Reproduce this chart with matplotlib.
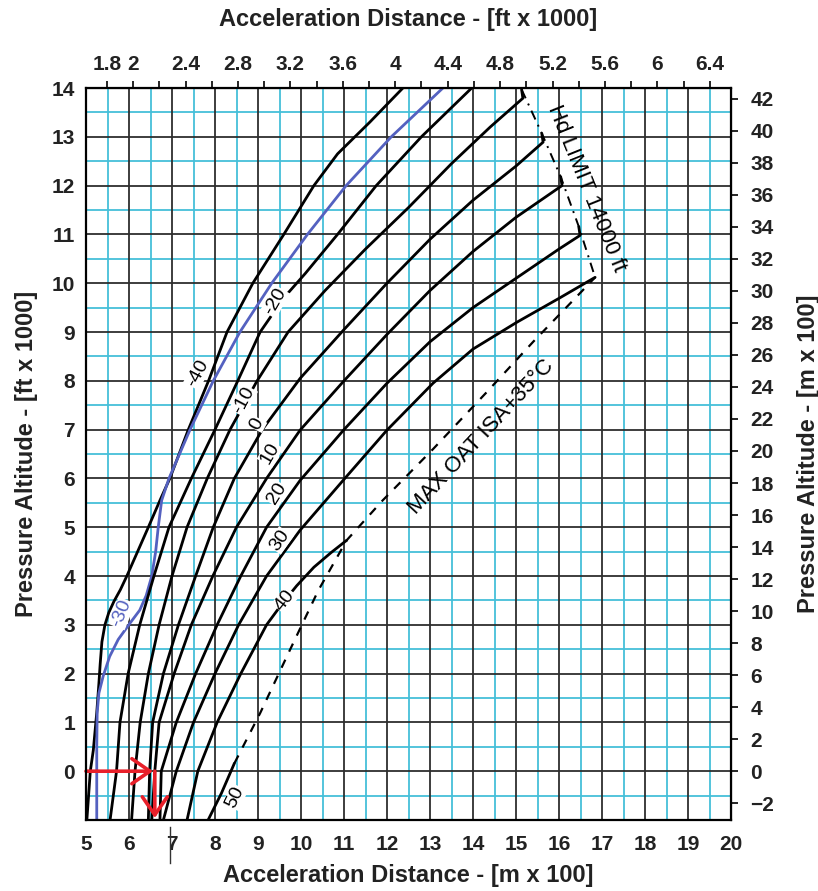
import numpy as np
from matplotlib import pyplot as plt

plt.rcParams['font.family'] = ['Liberation Sans', 'DejaVu Sans']

# acceleration distance [m x 100] vs pressure altitude [ft x 1000] for each OAT
temps = [-40, -30, -20, -10, 0, 10, 20, 30, 40, 50]

line_m40 = [(5.02, -1), (5.1, 0), (5.17, 0.43), (5.25, 1.2), (5.3, 1.8), (5.33, 2.2), (5.37, 2.65),
            (5.44, 3.0), (5.53, 3.25), (5.65, 3.48), (5.8, 3.72), (5.95, 4.0), (6.2, 4.5),
            (6.45, 5.0), (6.72, 5.55), (6.95, 6.0), (7.38, 7.0), (7.85, 8.0), (8.28, 9.0),
            (8.88, 10.0), (9.6, 11.0), (10.3, 12.0), (10.85, 12.65), (11.6, 13.3), (12.37, 14.0)]
line_m30 = [(5.25, -1), (5.25, 0.5), (5.26, 1.2), (5.3, 1.6), (5.4, 1.95), (5.55, 2.35), (5.75, 2.7),
            (6.02, 3.03), (6.25, 3.3), (6.4, 3.6), (6.53, 4.0), (6.62, 4.5), (6.68, 5.0),
            (6.76, 5.55), (6.93, 6.0), (7.42, 7.0), (7.96, 8.0), (8.58, 9.0), (9.32, 10.0),
            (10.15, 11.0), (11.05, 12.0), (12.1, 13.0), (13.3, 14.0)]
line_m20 = [(5.56, -1), (5.71, 0), (5.79, 1), (5.98, 2), (6.25, 3), (6.58, 4), (6.93, 5), (7.45, 6),
            (8.0, 7), (8.53, 8), (9.05, 9), (9.6, 9.7), (10.1, 10.2), (10.85, 11), (11.75, 12),
            (12.8, 13), (13.97, 14)]
line_m10 = [(6.06, -1), (6.14, 0), (6.26, 1), (6.45, 2), (6.7, 3), (7.0, 4), (7.35, 5), (7.82, 6),
            (8.35, 7), (8.98, 8), (9.7, 9), (10.56, 9.85), (11.5, 10.7), (12.5, 11.55),
            (13.5, 12.45), (14.4, 13.2), (15.16, 13.79), (15.13, 13.97)]
line_0 = [(6.45, -1), (6.48, 0), (6.55, 1), (6.8, 2), (7.15, 3), (7.55, 4), (7.96, 5), (8.45, 6),
          (9.1, 7), (9.98, 8.05), (11.0, 9.05), (12.0, 10.0), (13.0, 10.9), (14.0, 11.7),
          (15.0, 12.4), (15.63, 12.89), (15.6, 13.07)]
line_10 = [(6.53, -1), (6.6, 0), (6.7, 1), (7.05, 2), (7.45, 3), (7.95, 4), (8.5, 5), (9.2, 6),
           (9.98, 6.99), (11.0, 8.0), (12.0, 8.95), (13.0, 9.85), (14.0, 10.65), (15.0, 11.35),
           (16.07, 12.0), (16.04, 12.18)]
line_20 = [(6.72, -1), (6.75, 0), (7.1, 1), (7.55, 2), (8.05, 3), (8.6, 4), (9.2, 5), (9.98, 5.96),
           (11.0, 7.0), (12.0, 7.95), (13.0, 8.8), (14.0, 9.5), (15.0, 10.1), (16.0, 10.7),
           (16.49, 10.98), (16.46, 11.16)]
line_30 = [(6.8, -1), (7.1, 0), (7.5, 1), (8.0, 2), (8.55, 3), (9.2, 4), (9.98, 4.94), (10.98, 5.96),
           (11.99, 6.98), (13.07, 7.95), (14.0, 8.65), (15.02, 9.2), (16.02, 9.7), (16.84, 10.12)]
line_40 = [(7.35, -1), (7.6, 0), (8.05, 1), (8.6, 2), (9.2, 3), (9.55, 3.42), (9.9, 3.8),
           (10.3, 4.18), (10.7, 4.48), (11.06, 4.73)]
line_50 = [(7.84, -1), (8.15, -0.45), (8.45, 0.16)]
curves = [line_m40, line_m30, line_m20, line_m10, line_0, line_10, line_20, line_30, line_40, line_50]

# limits
max_oat = [(8.45, 0.16), (9.05, 1.19), (9.74, 2.48), (10.4, 3.7), (11.06, 4.73), (11.9, 5.55),
           (13.07, 6.6), (14.3, 7.75), (15.4, 8.8), (16.33, 9.65), (16.84, 10.12)]
hd_limit = [(15.13, 13.97), (15.6, 13.07), (16.04, 12.18), (16.46, 11.16), (16.84, 10.12)]

# curve labels: text, x, y, angle
curve_labels = [('-40', 7.6, 8.15, 62), ('-30', 5.83, 3.23, 68), ('-20', 9.4, 9.62, 60),
                ('-10', 8.66, 7.6, 62), ('0', 8.97, 7.12, 62), ('10', 9.28, 6.51, 60),
                ('20', 9.43, 5.69, 58), ('30', 9.51, 4.73, 55), ('40', 9.63, 3.5, 52),
                ('50', 8.47, -0.53, 64)]

m_ticks = list(range(5, 21))
ft_ticks = list(range(0, 15))
right_ticks = list(range(-2, 43, 2))
top_ticks = [round(1.8 + 0.2 * i, 1) for i in range(24)]
top_labels = ['1.8', '2', '2.4', '2.8', '3.2', '3.6', '4', '4.4', '4.8', '5.2', '5.6', '6', '6.4']


def m_to_ft(x):
    return x * 0.328084


def ft_to_m(x):
    return x / 0.328084


def kft_to_hm(y):
    return y * 3.048


def hm_to_kft(y):
    return y / 3.048


def fmt_top(t):
    s = ('%.1f' % t).rstrip('0').rstrip('.')
    return s if s in top_labels else ''


fig = plt.figure(figsize=(8.18, 8.91), dpi=100)
ax = fig.add_axes([86 / 818, 1 - 820 / 891, 645 / 818, 732 / 891])
ax.set_xlim(5, 20)
ax.set_ylim(-1, 14)

# grid: cyan half steps, black whole steps
for v in np.arange(5.5, 20, 1.0):
    ax.axvline(v, color='#45bfd9', lw=1.3, zorder=1)
for v in np.arange(-0.5, 14, 1.0):
    ax.axhline(v, color='#45bfd9', lw=1.3, zorder=1)
for v in range(6, 20):
    ax.axvline(v, color='#2e2e2e', lw=1.3, zorder=2)
for v in range(0, 14):
    ax.axhline(v, color='#2e2e2e', lw=1.3, zorder=2)

for t, pts in zip(temps, curves):
    xs = [p[0] for p in pts]
    ys = [p[1] for p in pts]
    col = '#5461c0' if t == -30 else 'black'
    ax.plot(xs, ys, color=col, lw=2.0, zorder=4, solid_capstyle='round', solid_joinstyle='round')

ax.plot([p[0] for p in max_oat], [p[1] for p in max_oat], color='black', lw=1.6,
        ls=(0, (4, 4)), zorder=4)
ax.plot([p[0] for p in hd_limit], [p[1] for p in hd_limit], color='black', lw=1.4,
        ls=(0, (5, 3, 1, 3)), zorder=4)

for txt, x, y, ang in curve_labels:
    col = '#5461c0' if txt == '-30' else 'black'
    ax.text(x, y, txt, rotation=ang, color=col, fontsize=14, ha='center', va='center',
            rotation_mode='anchor', zorder=5,
            bbox=dict(facecolor='white', edgecolor='none', pad=0.3))

ax.text(14.2, 6.85, 'MAX OAT ISA+35°C', rotation=47, fontsize=16, ha='center', va='center',
        rotation_mode='anchor', zorder=5)
ax.text(16.63, 11.95, 'Hd LIMIT 14000 ft', rotation=-68, fontsize=16, ha='center', va='center',
        rotation_mode='anchor', zorder=5)

# worked example
arrow = dict(arrowstyle='->,head_length=1.3,head_width=0.9', color='#e8202a', lw=2.6,
             shrinkA=0, shrinkB=0)
ax.annotate('', xy=(6.56, 0), xytext=(5.0, 0), arrowprops=arrow, zorder=6)
ax.annotate('', xy=(6.6, -0.96), xytext=(6.6, 0), arrowprops=arrow, zorder=6)

# stray reader mark under the 7
ax.plot([6.95, 6.95], [-1.14, -1.88], color='#333333', lw=1.0, clip_on=False)

lab_kw = dict(fontsize=17, fontweight='bold', color='#222222')
ax.set_xticks(m_ticks)
ax.set_yticks(ft_ticks)
ax.tick_params(axis='x', length=0, labelsize=15, labelcolor='#222222', pad=11)
ax.tick_params(axis='y', length=0, labelsize=15, labelcolor='#222222', pad=8)
for lb in ax.get_xticklabels() + ax.get_yticklabels():
    lb.set_fontweight('bold')
ax.set_xlabel('Acceleration Distance - [m x 100]', labelpad=7, **lab_kw)
ax.set_ylabel('Pressure Altitude - [ft x 1000]', labelpad=10, **lab_kw)
for s in ax.spines.values():
    s.set_linewidth(1.6)
    s.set_zorder(7)

top = ax.secondary_xaxis('top', functions=(m_to_ft, ft_to_m))
top.set_xticks(top_ticks)
top.set_xticklabels([fmt_top(t) for t in top_ticks])
top.tick_params(length=5, width=1.2, labelsize=15, labelcolor='#222222', pad=5)
for lb in top.get_xticklabels():
    lb.set_fontweight('bold')
top.set_xlabel('Acceleration Distance - [ft x 1000]', labelpad=21, **lab_kw)

right = ax.secondary_yaxis('right', functions=(kft_to_hm, hm_to_kft))
right.set_yticks(right_ticks)
right.tick_params(length=5, width=1.2, labelsize=15, labelcolor='#222222', pad=9)
for lb in right.get_yticklabels():
    lb.set_fontweight('bold')
right.set_ylabel('Pressure Altitude - [m x 100]', labelpad=16, **lab_kw)

fig.savefig('out.png', dpi=100)
